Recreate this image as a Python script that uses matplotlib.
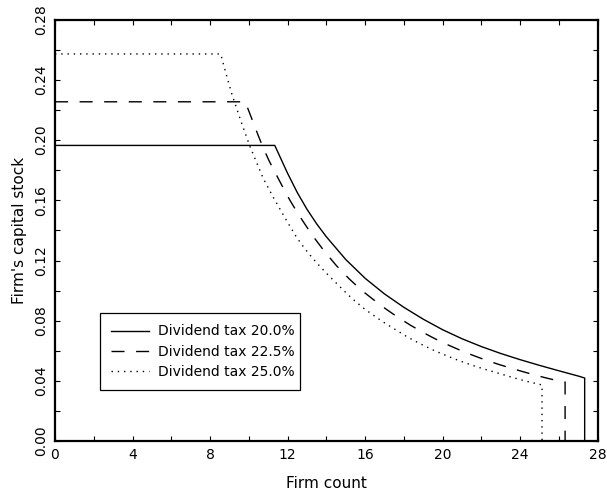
import matplotlib.pyplot as plt
from matplotlib.ticker import MultipleLocator

# values (flat part, falling part, drop to zero)
x_20 = [0.0, 11.34, 12.0, 12.5, 13.0, 13.5, 14.0, 15.0, 16.0, 17.0, 18.0, 19.0, 20.0,
        21.0, 22.0, 23.0, 24.0, 25.0, 26.0, 27.0, 27.33, 27.33]
y_20 = [0.1965, 0.1965, 0.1780, 0.1652, 0.1541, 0.1444, 0.1358, 0.1207, 0.1082, 0.0978, 0.0889, 0.0810, 0.0740,
        0.0680, 0.0628, 0.0582, 0.0541, 0.0503, 0.0467, 0.0432, 0.0419, 0.0]

x_225 = [0.0, 9.82, 9.97, 10.23, 10.48, 10.74, 11.05, 11.43, 11.77, 12.12, 12.55, 12.98, 13.41, 13.92,
         14.52, 15.18, 15.81, 16.41, 17.07, 17.70, 18.34, 18.99, 19.59, 20.28, 20.88, 21.54, 22.12,
         22.81, 23.43, 24.12, 24.70, 25.35, 25.99, 26.32, 26.32]
y_225 = [0.2255, 0.2255, 0.2204, 0.2117, 0.2033, 0.1950, 0.1862, 0.1767, 0.1684, 0.1601, 0.1509, 0.1425, 0.1345, 0.1258,
         0.1166, 0.1078, 0.1003, 0.0942, 0.0878, 0.0822, 0.0770, 0.0722, 0.0681, 0.0639, 0.0605, 0.0571, 0.0543,
         0.0513, 0.0488, 0.0462, 0.0441, 0.0419, 0.0400, 0.0392, 0.0]

x_25 = [0.0, 8.55, 8.73, 9.11, 9.57, 10.06, 10.74, 11.29, 11.86, 12.46, 12.94, 13.49, 14.09, 14.70,
        15.30, 15.99, 16.90, 17.50, 18.14, 18.82, 19.51, 20.20, 20.88, 21.57, 22.23, 22.90, 23.60,
        24.30, 25.13, 25.13]
y_25 = [0.2573, 0.2573, 0.2486, 0.2313, 0.2135, 0.1958, 0.1747, 0.1614, 0.1485, 0.1355, 0.1270, 0.1186, 0.1104, 0.1026,
        0.0950, 0.0876, 0.0794, 0.0746, 0.0695, 0.0648, 0.0605, 0.0567, 0.0533, 0.0502, 0.0475, 0.0450, 0.0423,
        0.0398, 0.0373, 0.0]

labels = ['Dividend tax 20.0%', 'Dividend tax 22.5%', 'Dividend tax 25.0%']

plt.rcParams['font.family'] = ['DejaVu Sans']
fig = plt.figure(figsize=(6.07, 4.95), dpi=100)
ax = fig.add_axes([0.0906, 0.109, 0.894, 0.851])

ax.plot(x_20, y_20, color='black', linewidth=1.0, linestyle='-', label=labels[0])
ax.plot(x_225, y_225, color='black', linewidth=1.0, linestyle=(0, (9.4, 8.3)), label=labels[1])
ax.plot(x_25, y_25, color='black', linewidth=1.0, linestyle=(0, (1, 3.5)), label=labels[2])

ax.set_xlim(0, 28)
ax.set_ylim(0, 0.28)
ax.xaxis.set_major_locator(MultipleLocator(4))
ax.xaxis.set_minor_locator(MultipleLocator(2))
ax.yaxis.set_major_locator(MultipleLocator(0.04))
ax.yaxis.set_minor_locator(MultipleLocator(0.02))
ax.xaxis.set_major_formatter(lambda v, p: f'{v:.0f}')
ax.yaxis.set_major_formatter(lambda v, p: f'{v:.2f}')
ax.tick_params(which='both', direction='in', top=True, right=True, length=3.5, width=0.8,
               labelsize=10, pad=5)
for lab in ax.get_yticklabels():
    lab.set_rotation(90)
    lab.set_va('center')
for s in ax.spines.values():
    s.set_linewidth(1.6)

ax.set_xlabel('Firm count', fontsize=11, labelpad=10)
ax.set_ylabel("Firm's capital stock", fontsize=11, labelpad=5)

leg = ax.legend(loc='upper left', bbox_to_anchor=(0.083, 0.3033, 0.368, 0.0), mode='expand',
                borderaxespad=0, fancybox=False, edgecolor='black', framealpha=1, fontsize=10,
                handlelength=2.7, handletextpad=0.7, borderpad=0.8, labelspacing=0.45)
leg.get_frame().set_linewidth(0.9)

fig.savefig('out.png', dpi=100)
